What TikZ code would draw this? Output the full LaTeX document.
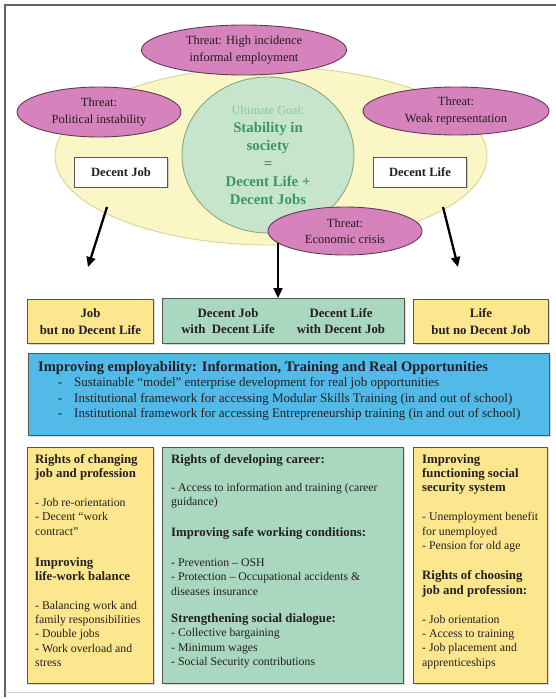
\documentclass[tikz,border=0pt]{standalone}
\usepackage{fontspec}
\setmainfont{Liberation Serif}
\usetikzlibrary{shapes.geometric,arrows.meta,shadows}

\definecolor{ink}{RGB}{35,30,32}
\definecolor{threatfill}{RGB}{214,130,188}
\definecolor{threatline}{RGB}{95,60,85}
\definecolor{worldfill}{RGB}{250,246,198}
\definecolor{worldline}{RGB}{214,212,150}
\definecolor{goalfill}{RGB}{198,229,204}
\definecolor{goalline}{RGB}{140,168,118}
\definecolor{goaltext}{RGB}{58,150,102}
\definecolor{goallight}{RGB}{140,196,160}
\definecolor{boxyellow}{RGB}{252,231,142}
\definecolor{boxgreen}{RGB}{170,215,192}
\definecolor{boxblue}{RGB}{82,186,233}
\definecolor{boxline}{RGB}{85,85,85}
\definecolor{framec}{RGB}{100,100,100}

\newcommand{\hd}[1]{{\bfseries\fontsize{12.8}{14.4}\selectfont #1}}

\begin{document}
\begin{tikzpicture}[x=1pt,y=-1pt,
  threat/.style={ellipse, draw=threatline, fill=threatfill, line width=0.9pt,
    inner sep=0pt, align=center, text=ink, font=\fontsize{12.5}{16.5}\selectfont},
  namebox/.style={draw=boxline, fill=white, line width=0.9pt, minimum width=93,
    minimum height=30, text=ink, font=\bfseries\fontsize{12.6}{15}\selectfont,
    drop shadow={shadow xshift=1pt,shadow yshift=-1pt,opacity=.3}},
  panel/.style={draw=boxline, line width=1pt, anchor=north west, inner sep=0pt,
    align=center, text=ink, font=\bfseries\fontsize{12.8}{16.5}\selectfont,
    drop shadow={shadow xshift=1.2pt,shadow yshift=-1.2pt,opacity=.3}},
  rowtxt/.style={align=center, inner sep=0pt, text=ink,
    font=\bfseries\fontsize{12.8}{16.5}\selectfont},
  body/.style={anchor=north west, align=left, inner sep=0pt, text=ink,
    font=\fontsize{11.8}{14.4}\selectfont},
  arr/.style={-{Triangle[length=10pt,width=9pt]}, line width=2.3pt, black}]

\useasboundingbox (0,0) rectangle (556,699);

% frame
\draw[framec, line width=2pt] (5,697) -- (5,5) -- (556,5);
\draw[gray!35, line width=1pt] (5,692) -- (556,692);

% upper part
\node[ellipse, draw=worldline, fill=worldfill, line width=0.9pt,
  minimum width=432, minimum height=178] (world) at (271,156) {};
\node[ellipse, draw=goalline, fill=goalfill, line width=0.9pt, inner sep=0pt,
  minimum width=172, minimum height=156, align=center, text=goaltext,
  font=\bfseries\fontsize{14.8}{18}\selectfont] (goal) at (268,155)
  {{\mdseries\color{goallight}\fontsize{12.2}{18}\selectfont Ultimate Goal:}\\
   Stability in\\society\\=\\Decent Life +\\Decent Jobs};

\node[threat, minimum width=205, minimum height=50] (informal) at (244,50)
  {Threat: High incidence\\informal employment};
\node[threat, minimum width=164, minimum height=50] (political) at (99,112)
  {Threat:\\Political instability};
\node[threat, minimum width=186, minimum height=48] (weak) at (456,111)
  {Threat:\\Weak representation};
\node[threat, minimum width=154, minimum height=48] (crisis) at (345,231)
  {Threat:\\Economic crisis};

\node[namebox] (djob) at (121,172) {Decent Job};
\node[namebox] (dlife) at (420,172) {Decent Life};

% middle row
\node[panel, fill=boxyellow, minimum width=126, minimum height=44] (jobonly)
  at (27,299) {Job\\but no Decent Life};
\node[panel, fill=boxgreen, minimum width=242, minimum height=45] (both)
  at (162,298) {};
\node[rowtxt] (bothjob) at (228,321) {Decent Job\\with\ \ Decent Life};
\node[rowtxt] (bothlife) at (341,321) {Decent Life\\with Decent Job};
\node[panel, fill=boxyellow, minimum width=135, minimum height=44] (lifeonly)
  at (413,299) {Life\\but no Decent Job};

% arrows
\coordinate (jobfoot) at (107,207);
\coordinate (jobtip) at (88,267);
\coordinate (lifefoot) at (443,207);
\coordinate (lifetip) at (458,267);
\coordinate (crisisfoot) at (278,243);
\draw[arr] (jobfoot) -- (jobtip);
\draw[arr] (lifefoot) -- (lifetip);
\draw[arr] (crisisfoot) -- (crisisfoot |- both.north);

% employability
\node[panel, fill=boxblue, minimum width=521, minimum height=82] (employ)
  at (28,353) {};
\node[body, font=\fontsize{13}{15.5}\selectfont] (employtxt) at (38,361)
  {{\bfseries\fontsize{14.5}{15.5}\selectfont Improving employability: Information, Training and Real Opportunities}\\
   \hspace*{20pt}\makebox[16pt][l]{-}Sustainable “model” enterprise development for real job opportunities\\
   \hspace*{20pt}\makebox[16pt][l]{-}Institutional framework for accessing Modular Skills Training (in and out of school)\\
   \hspace*{20pt}\makebox[16pt][l]{-}Institutional framework for accessing Entrepreneurship training (in and out of school)};

% lower row
\node[panel, fill=boxyellow, minimum width=126, minimum height=236] (jobrights)
  at (27,447) {};
\node[panel, fill=boxgreen, minimum width=241, minimum height=236] (career)
  at (162,447) {};
\node[panel, fill=boxyellow, minimum width=134, minimum height=236] (security)
  at (413,447) {};

\node[body] (jobrightstxt) at (35,454)
  {\hd{Rights of changing}\\\hd{job and profession}\\[14.2pt]
   - Job re-orientation\\- Decent “work\\contract”\\[16.6pt]
   \hd{Improving}\\\hd{life-work balance}\\[14.2pt]
   - Balancing work and\\family responsibilities\\- Double jobs\\
   - Work overload and\\stress};
\node[body] (careertxt) at (171,454)
  {\hd{Rights of developing career:}\\[13.6pt]
   - Access to information and training (career\\guidance)\\[16.2pt]
   \hd{Improving safe working conditions:}\\[15.6pt]
   - Prevention – OSH\\- Protection – Occupational accidents \&\\diseases insurance\\[12.8pt]
   \hd{Strengthening social dialogue:}\\- Collective bargaining\\
   - Minimum wages\\- Social Security contributions};
\node[body] (securitytxt) at (422,454)
  {\hd{Improving}\\\hd{functioning social}\\\hd{security system}\\[14.6pt]
   - Unemployment benefit\\for unemployed\\- Pension for old age\\[15.6pt]
   \hd{Rights of choosing}\\\hd{job and profession:}\\[14.6pt]
   - Job orientation\\- Access to training\\- Job placement and\\apprenticeships};

\end{tikzpicture}
\end{document}
